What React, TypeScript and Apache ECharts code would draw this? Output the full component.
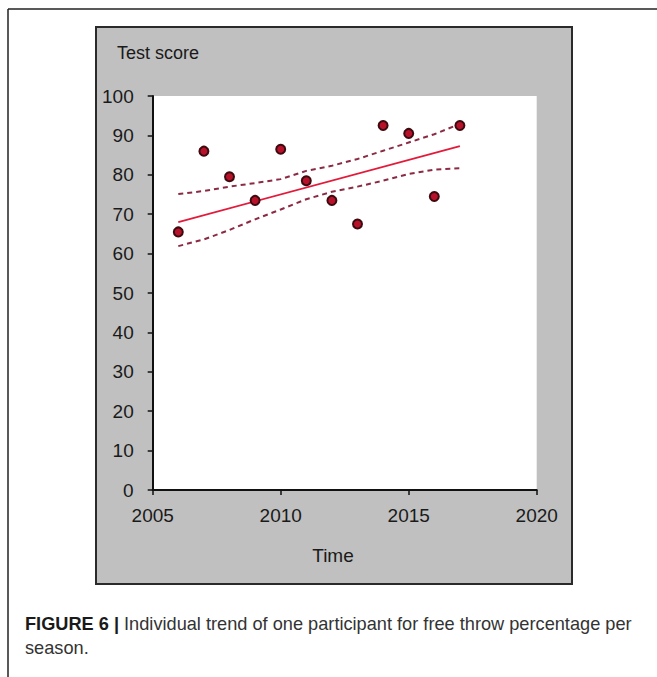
import React, { useEffect, useRef } from "react";
import * as echarts from "echarts";

const years = [2006, 2007, 2008, 2009, 2010, 2011, 2012, 2013, 2014, 2015, 2016, 2017];
const scores = [65.5, 86, 79.5, 73.5, 86.5, 78.5, 73.5, 67.5, 92.5, 90.5, 74.5, 92.5];
const upperBand = [75.1, 75.9, 77.0, 77.9, 78.9, 81.0, 82.3, 84.0, 86.1, 88.2, 90.3, 92.9];
const lowerBand = [61.9, 63.6, 66.0, 68.7, 71.2, 73.8, 75.7, 77.0, 78.5, 80.2, 81.3, 81.7];
const trendYears = [2006, 2017];
const trendValues = [68, 87.3];
const yTicks = [0, 100, 10];
const xTicks = [2005, 2020, 5];

const axisFont = "'Liberation Sans', Arial, sans-serif";
const capFont = "'Liberation Sans', Arial, sans-serif";

export default function App() {
  const ref = useRef<HTMLDivElement>(null);
  useEffect(() => {
    if (!ref.current) return;
    const chart = echarts.init(ref.current, undefined, { renderer: "svg" });
    const pts = years.map((y, i) => [y, scores[i]]);
    const up = years.map((y, i) => [y, upperBand[i]]);
    const lo = years.map((y, i) => [y, lowerBand[i]]);
    const tr = trendYears.map((y, i) => [y, trendValues[i]]);
    const dashStyle = { color: "#8c2a44", width: 2, type: [5, 4] as any };
    chart.setOption({
      animation: false,
      backgroundColor: "#ffffff",
      graphic: [
        { type: "line", shape: { x1: 8, y1: 9, x2: 657, y2: 9 }, style: { stroke: "#222", lineWidth: 1.5 }, z: -10 },
        { type: "line", shape: { x1: 8, y1: 9, x2: 8, y2: 677 }, style: { stroke: "#222", lineWidth: 1.5 }, z: -10 },
        {
          type: "rect",
          shape: { x: 96, y: 27, width: 476, height: 557 },
          style: { fill: "#c0c0c0", stroke: "#2a2a2a", lineWidth: 2 },
          z: -10,
        },
        {
          type: "text",
          x: 117,
          y: 53,
          style: { text: "Test score", font: `18px ${axisFont}`, fill: "#1a1a1a", verticalAlign: "middle" },
        },
        {
          type: "text",
          x: 333,
          y: 555,
          style: { text: "Time", font: `19px ${axisFont}`, fill: "#1a1a1a", align: "center", verticalAlign: "middle" },
        },
        {
          type: "text",
          x: 25,
          y: 636,
          style: {
            text: "{b|FIGURE 6 |} Individual trend of one participant for free throw percentage per\nseason.",
            font: `18.2px ${capFont}`,
            fill: "#333",
            verticalAlign: "middle",
            lineHeight: 24,
            rich: {
              b: { font: `bold 18.2px ${capFont}`, fill: "#1a1a1a", lineHeight: 24 },
            },
          },
        },
      ],
      grid: {
        left: 152.7,
        top: 96,
        width: 384,
        height: 394,
        show: true,
        backgroundColor: "#ffffff",
        borderWidth: 0,
        z: 0,
      },
      xAxis: {
        type: "value",
        min: xTicks[0],
        max: xTicks[1],
        interval: xTicks[2],
        splitLine: { show: false },
        axisLine: { show: true, lineStyle: { color: "#111", width: 2 } },
        axisTick: { show: true, length: 5, lineStyle: { color: "#111", width: 1.5 } },
        axisLabel: {
          margin: 16,
          fontSize: 19,
          fontFamily: axisFont,
          color: "#1a1a1a",
          formatter: (v: number) => String(v),
        },
      },
      yAxis: {
        type: "value",
        min: yTicks[0],
        max: yTicks[1],
        interval: yTicks[2],
        splitLine: { show: false },
        axisLine: { show: true, lineStyle: { color: "#111", width: 2 } },
        axisTick: { show: true, length: 5, lineStyle: { color: "#111", width: 1.5 } },
        axisLabel: { margin: 19, fontSize: 19, fontFamily: axisFont, color: "#1a1a1a" },
      },
      series: [
        { type: "line", data: up, symbol: "none", lineStyle: dashStyle, silent: true, z: 2 },
        { type: "line", data: lo, symbol: "none", lineStyle: dashStyle, silent: true, z: 2 },
        { type: "line", data: tr, symbol: "none", lineStyle: { color: "#e31b3b", width: 1.8 }, silent: true, z: 3 },
        {
          type: "scatter",
          data: pts,
          symbol: "circle",
          symbolSize: 9,
          itemStyle: { color: "#b8122a", borderColor: "#3d0a10", borderWidth: 2, opacity: 1 },
          z: 4,
        },
      ],
    });
    return () => chart.dispose();
  }, []);
  return (
    <div
      ref={ref}
      style={{ position: "fixed", left: 0, top: 0, width: 657, height: 677 }}
    />
  );
}
